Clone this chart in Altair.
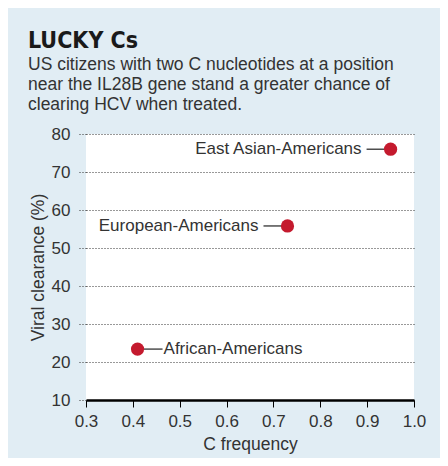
import altair as alt
import pandas as pd

groups = ["East Asian-Americans", "European-Americans", "African-Americans"]
c_freq = [0.95, 0.73, 0.41]
clearance = [76.0, 55.8, 23.4]
side = ["left", "left", "right"]

x_ticks = [0.3, 0.4, 0.5, 0.6, 0.7, 0.8, 0.9, 1.0]
y_ticks = [10, 20, 30, 40, 50, 60, 70, 80]

df = pd.DataFrame({"group": groups, "c": c_freq, "v": clearance, "side": side})

FONT = "Liberation Sans"
TXT = "#333333"
RED = "#c41a2e"

x = alt.X("c:Q", title="C frequency",
          scale=alt.Scale(domain=[0.3, 1.0], nice=False, zero=False),
          axis=alt.Axis(values=x_ticks, format=".1f", grid=False, labelFlush=False,
                        domainColor="black", domainWidth=2.5,
                        tickColor="black", tickWidth=1, tickSize=7,
                        labelPadding=6, labelFontSize=17, labelColor=TXT, labelFont=FONT,
                        titleFontSize=17.5, titleFont=FONT, titleColor=TXT,
                        titleFontWeight="normal", titlePadding=6))
y = alt.Y("v:Q", title="Viral clearance (%)",
          scale=alt.Scale(domain=[10, 80], nice=False, zero=False),
          axis=alt.Axis(values=y_ticks, domain=False, grid=True, labelFlush=False,
                        gridColor="#333333", gridDash=[1, 2], gridWidth=1, gridOpacity=1,
                        tickColor="#333333", tickDash=[1, 2], tickWidth=1, tickSize=7,
                        labelPadding=9, labelFontSize=17, labelColor=TXT, labelFont=FONT,
                        titleFontSize=17.5, titleFont=FONT, titleColor=TXT,
                        titleFontWeight="normal", titlePadding=4))

base = alt.Chart(df)

left_rule = base.transform_filter(alt.datum.side == "left").mark_rule(
    color="#222222", strokeWidth=1.2, xOffset=-24, x2Offset=0
).encode(x=x, x2="c:Q", y=y)
right_rule = base.transform_filter(alt.datum.side == "right").mark_rule(
    color="#222222", strokeWidth=1.2, xOffset=0, x2Offset=25
).encode(x=x, x2="c:Q", y=y)

points = base.mark_circle(size=175, color=RED, opacity=1).encode(x=x, y=y)

left_text = base.transform_filter(alt.datum.side == "left").mark_text(
    align="right", baseline="middle", dx=-29, fontSize=17, font=FONT, color=TXT
).encode(x=x, y=y, text="group:N")
right_text = base.transform_filter(alt.datum.side == "right").mark_text(
    align="left", baseline="middle", dx=26, fontSize=17, font=FONT, color=TXT
).encode(x=x, y=y, text="group:N")

chart = alt.layer(left_rule, right_rule, points, left_text, right_text).properties(
    width=328, height=266,
    background="#e1edf4",
    padding={"left": 78, "top": 126, "right": 26, "bottom": 58},
    autosize=alt.AutoSizeParams(type="none"),
    title=alt.TitleParams(
        text="LUCKY Cs",
        subtitle=["US citizens with two C nucleotides at a position",
                  "near the IL28B gene stand a greater chance of",
                  "clearing HCV when treated."],
        anchor="start", frame="group", dx=-58,
        font="'Liberation Sans Narrow', 'DejaVu Sans Condensed', 'Roboto Condensed', Roboto, sans-serif",
        fontSize=23, fontWeight="bold", color="#1a1a1a",
        subtitleFont=FONT, subtitleFontSize=17.5, subtitleColor=TXT,
        subtitleLineHeight=20, subtitlePadding=3, offset=12,
    ),
).configure_view(fill="white", stroke=None)

chart.save("out.html", embed_options={"renderer": "svg", "actions": False})
